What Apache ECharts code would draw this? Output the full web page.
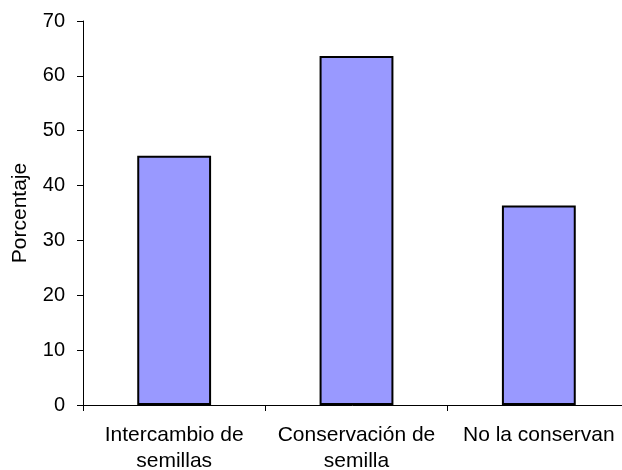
<!DOCTYPE html>
<html>
<head>
<meta charset="utf-8">
<script src="https://cdn.jsdelivr.net/npm/echarts@6/dist/echarts.min.js"></script>
<style>
  html, body { margin: 0; padding: 0; background: #ffffff; }
  #chart { width: 622px; height: 470px; }
</style>
</head>
<body>
<div id="chart"></div>
<script>
// Categories and percentages for each bar
var categories = ['Intercambio de\nsemillas', 'Conservación de\nsemilla', 'No la conservan'];
var percentages = [45.45, 63.64, 36.36];
var yTicks = [0, 10, 20, 30, 40, 50, 60, 70];

var chart = echarts.init(document.getElementById('chart'), null, { renderer: 'canvas' });
var fontFamily = 'Liberation Sans, Arial, sans-serif';

chart.setOption({
  animation: false,
  backgroundColor: '#ffffff',
  grid: { left: 83, top: 21, width: 547, height: 384, containLabel: false, outerBoundsMode: 'none' },
  xAxis: {
    type: 'category',
    data: categories,
    axisLine: { show: true, lineStyle: { color: '#000000', width: 1 } },
    axisTick: { show: true, alignWithLabel: false, length: 6, lineStyle: { color: '#000000' } },
    axisLabel: {
      color: '#000000', fontSize: 21, fontFamily: fontFamily,
      margin: 17, lineHeight: 26, interval: 0, align: 'center'
    },
    splitLine: { show: false }
  },
  yAxis: {
    type: 'value',
    min: yTicks[0],
    max: yTicks[yTicks.length - 1],
    interval: 10,
    name: 'Porcentaje',
    nameLocation: 'middle',
    nameGap: 52,
    nameRotate: 90,
    nameTextStyle: { color: '#000000', fontSize: 21, fontFamily: fontFamily },
    axisLine: { show: true, lineStyle: { color: '#000000', width: 1 } },
    axisTick: { show: true, length: 6, lineStyle: { color: '#000000' } },
    axisLabel: { color: '#000000', fontSize: 20, fontFamily: fontFamily, margin: 18 },
    splitLine: { show: false }
  },
  series: [{
    type: 'bar',
    data: percentages,
    barWidth: '40.5%',
    itemStyle: { color: '#9999ff', borderColor: '#000000', borderWidth: 2 },
    label: { show: false }
  }]
});
</script>
</body>
</html>
